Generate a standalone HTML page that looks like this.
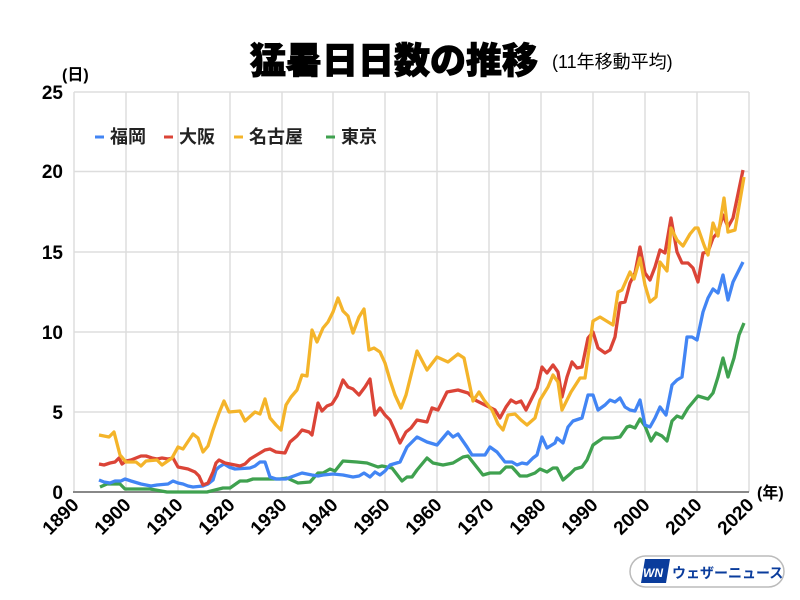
<!DOCTYPE html>
<html><head><meta charset="utf-8"><style>
body{margin:0;background:#fff;width:800px;height:600px;overflow:hidden}
svg{display:block}
text{font-family:"Liberation Sans","Noto Sans CJK JP",sans-serif}
</style></head><body>
<svg width="800" height="600" viewBox="0 0 800 600" xmlns="http://www.w3.org/2000/svg">
<rect width="800" height="600" fill="#fff"/>
<text x="538" y="73" font-size="36" font-weight="900" text-anchor="end" fill="#000" stroke="#000" stroke-width="1" style="font-family:'Noto Sans CJK JP',sans-serif">猛暑日日数の推移</text>
<text x="552" y="68" font-size="18" fill="#000">(11年移動平均)</text>
<text x="62" y="80" font-size="16" font-weight="bold" fill="#000">(日)</text>
<text x="757" y="498" font-size="16" font-weight="bold" fill="#000">(年)</text>
<g stroke="#ddd" stroke-width="1.5">
<line x1="74" y1="92" x2="749" y2="92"/>
<line x1="74" y1="171.5" x2="749" y2="171.5"/>
<line x1="74" y1="252" x2="749" y2="252"/>
<line x1="74" y1="332" x2="749" y2="332"/>
<line x1="74" y1="412" x2="749" y2="412"/>
<line x1="74" y1="92" x2="74" y2="492"/>
<line x1="749" y1="92" x2="749" y2="492"/>
<line x1="126" y1="92" x2="126" y2="492"/><line x1="178" y1="92" x2="178" y2="492"/>
<line x1="230" y1="92" x2="230" y2="492"/><line x1="282" y1="92" x2="282" y2="492"/>
<line x1="333" y1="92" x2="333" y2="492"/><line x1="385" y1="92" x2="385" y2="492"/>
<line x1="437" y1="92" x2="437" y2="492"/><line x1="489" y1="92" x2="489" y2="492"/>
<line x1="541" y1="92" x2="541" y2="492"/><line x1="593" y1="92" x2="593" y2="492"/>
<line x1="645" y1="92" x2="645" y2="492"/><line x1="697" y1="92" x2="697" y2="492"/>
</g>
<line x1="73" y1="492" x2="749" y2="492" stroke="#888" stroke-width="2"/>
<g font-size="19" font-weight="bold" text-anchor="end" fill="#000">
<text x="63" y="99">25</text><text x="63" y="178">20</text><text x="63" y="259">15</text>
<text x="63" y="339">10</text><text x="63" y="419">5</text><text x="63" y="499">0</text>
</g>
<g font-size="19" font-weight="bold" text-anchor="end" fill="#000">
<text transform="translate(80,506) rotate(-45)">1890</text>
<text transform="translate(132,506) rotate(-45)">1900</text>
<text transform="translate(184,506) rotate(-45)">1910</text>
<text transform="translate(236,506) rotate(-45)">1920</text>
<text transform="translate(288,506) rotate(-45)">1930</text>
<text transform="translate(339,506) rotate(-45)">1940</text>
<text transform="translate(391,506) rotate(-45)">1950</text>
<text transform="translate(443,506) rotate(-45)">1960</text>
<text transform="translate(495,506) rotate(-45)">1970</text>
<text transform="translate(547,506) rotate(-45)">1980</text>
<text transform="translate(599,506) rotate(-45)">1990</text>
<text transform="translate(651,506) rotate(-45)">2000</text>
<text transform="translate(703,506) rotate(-45)">2010</text>
<text transform="translate(755,506) rotate(-45)">2020</text>
</g>
<g fill="none" stroke-width="3.3" stroke-linejoin="round">
<polyline stroke="#3fa14f" points="100,487 107,484 120,484 125,489 150,489 167,492 207,492 223,488 230,488 240,481 247,481 253,479 280,479 287,478 298,483 310,482 318,473 323,473 330,469 335,471 343,461 357,462 367,463 378,467 382,466 392,468 402,481 407,477 412,477 417,470 427,458 433,463 443,465 453,463 463,457 468,456 483,475 490,473 500,473 506,467 512,467 520,476 527,476 535,473 540,469 547,472 553,468 557,468 563,480 570,474 575,469 582,467 587,460 593,445 603,438 613,438 620,437 627,427 630,426 635,428 640,419 645,426 651,441 656,433 662,436 667,441 672,421 677,416 682,418 688,408 693,402 698,396 708,399 713,393 718,377 723,358 728,377 734,358 739,335 744,323"/>
<polyline stroke="#4285f4" points="99,480 104,482 110,483 115,481 121,481 125,479 131,481 141,484 151,486 157,485 168,484 173,481 178,483 183,484 188,486 193,487 203,486 208,484 213,480 216,470 219,467 224,464 229,467 235,469 250,468 255,466 260,462 265,462 270,477 276,479 286,479 291,477 302,473 312,475 318,476 323,475 333,474 343,475 353,477 359,476 364,473 370,477 375,472 380,475 385,471 390,465 400,462 407,447 417,437 427,442 437,445 448,432 453,437 458,434 467,447 472,455 485,455 490,447 497,452 505,462 512,462 517,465 522,463 527,464 533,458 537,455 542,437 547,448 555,443 557,438 563,443 568,427 573,421 582,418 588,395 593,395 598,410 605,405 610,400 615,402 620,398 625,407 630,410 635,411 640,400 645,425 650,427 655,418 660,407 666,415 672,385 677,380 682,377 687,337 692,337 697,340 703,312 708,298 713,289 718,293 723,275 728,300 733,282 743,262"/>
<polyline stroke="#db4437" points="99,464 104,465 110,463 115,462 119,458 122,464 126,461 131,460 136,458 141,456 146,456 152,458 157,459 162,458 168,459 173,458 178,467 188,469 195,472 199,476 203,485 208,483 213,472 216,463 219,460 225,463 230,464 240,466 245,464 250,459 255,456 260,453 265,450 270,449 276,452 285,453 290,442 297,436 302,430 309,432 312,435 318,403 322,411 327,406 332,404 337,396 343,380 348,387 353,389 359,395 365,387 370,379 375,415 380,408 385,415 390,420 395,431 400,443 406,432 411,428 417,420 427,422 432,408 438,410 447,392 458,390 468,393 475,400 485,405 495,410 500,418 506,407 511,400 516,403 521,401 526,410 537,388 542,367 547,373 553,365 558,372 562,397 567,377 572,362 577,368 582,367 588,338 593,332 598,348 605,353 610,350 615,337 620,303 625,302 630,283 635,273 640,247 645,273 650,280 655,267 660,250 665,253 671,218 677,252 682,263 688,263 693,268 698,282 703,253 708,252 713,238 718,232 723,215 728,227 733,218 743,170"/>
<polyline stroke="#f4b42a" points="99,435 104,436 109,437 114,432 120,455 126,462 136,462 141,466 146,461 157,460 162,465 172,458 178,447 183,449 193,434 198,438 203,452 208,446 213,430 219,413 224,401 229,412 240,411 245,421 255,412 260,414 265,399 270,418 276,425 281,430 286,405 291,397 297,390 302,375 307,376 312,330 317,342 323,328 328,322 333,312 338,298 343,311 348,316 353,333 359,317 364,309 369,350 374,348 380,352 385,363 390,380 395,395 401,408 406,395 411,375 417,351 427,370 437,357 448,362 458,354 464,358 473,401 479,392 484,400 492,410 498,424 503,430 508,415 515,414 521,420 527,425 535,418 540,400 548,387 553,375 558,382 562,410 571,392 580,378 585,378 593,321 600,317 613,325 618,292 622,290 630,272 634,279 640,258 645,285 650,302 656,297 660,262 667,271 671,228 677,240 683,246 690,234 695,228 698,228 704,245 708,255 713,223 718,236 724,198 728,232 735,230 744,177"/>
</g>
<g font-size="18" font-weight="bold" fill="#222" style="font-family:'Noto Sans CJK JP',sans-serif">
<line x1="95" y1="137" x2="104" y2="137" stroke="#4285f4" stroke-width="3"/>
<text x="110" y="143">福岡</text>
<line x1="164" y1="137" x2="173" y2="137" stroke="#db4437" stroke-width="3"/>
<text x="179" y="143">大阪</text>
<line x1="234" y1="137" x2="243" y2="137" stroke="#f4b42a" stroke-width="3"/>
<text x="249" y="143">名古屋</text>
<line x1="326" y1="137" x2="335" y2="137" stroke="#3fa14f" stroke-width="3"/>
<text x="341" y="143">東京</text>
</g>
<rect x="630" y="556" width="154" height="31" rx="15.5" fill="#fff" stroke="#bbb" stroke-width="1.5"/>
<polygon points="645,559 670,559 666,583 641,583" fill="#0a3c9c"/>
<text x="643" y="577" font-size="12" font-weight="bold" font-style="italic" fill="#fff">WN</text>
<text x="672" y="578" font-size="14" font-weight="bold" fill="#0a3c9c" style="font-family:'Noto Sans CJK JP',sans-serif">ウェザーニュース</text>
</svg>
</body></html>
